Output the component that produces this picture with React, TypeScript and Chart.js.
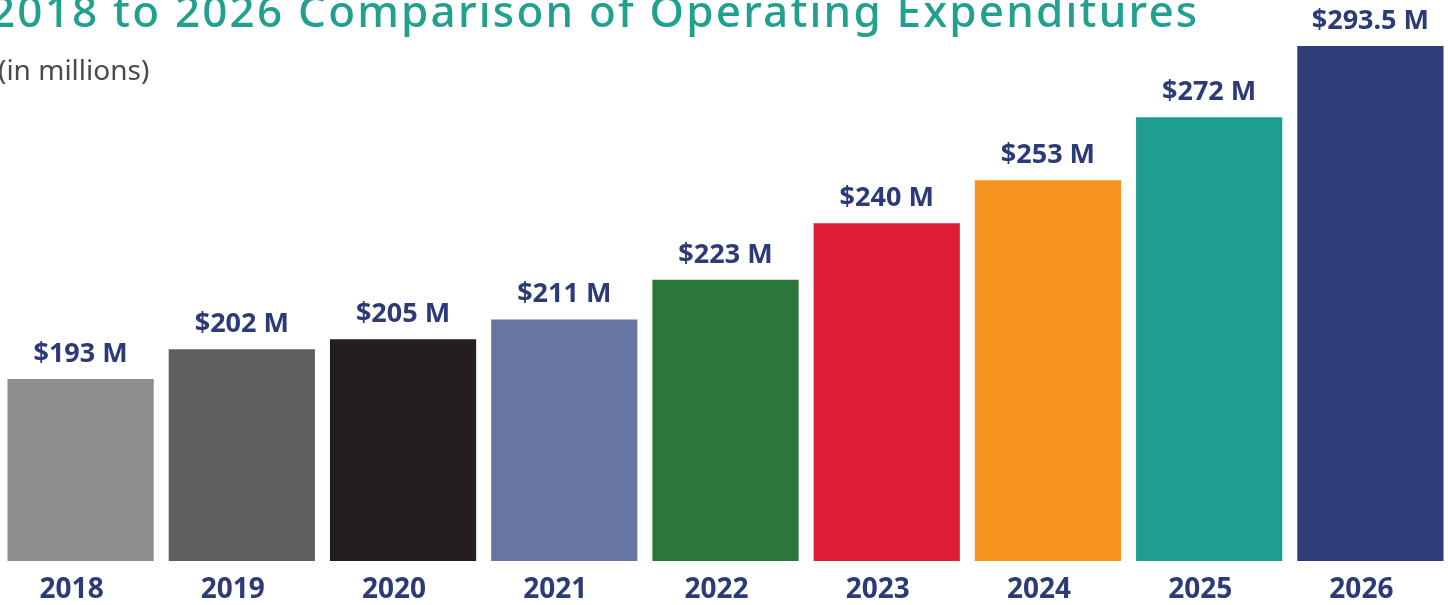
import React, { useEffect, useRef } from "react";
import { Chart, registerables } from "chart.js";

Chart.register(...registerables);

const years = ["2018", "2019", "2020", "2021", "2022", "2023", "2024", "2025", "2026"];
const expenditures = [193, 202, 205, 211, 223, 240, 253, 272, 293.5];
const valueLabels = ["$193 M", "$202 M", "$205 M", "$211 M", "$223 M", "$240 M", "$253 M", "$272 M", "$293.5 M"];
const barColors = ["#8e8e8e", "#5f5f61", "#231f20", "#6874a1", "#2b773b", "#df1c35", "#f6921e", "#1f9e8f", "#2e3d78"];

const titleText = "2018 to 2026 Comparison of Operating Expenditures";
const subtitleText = "(in millions)";

const NAVY = "#2c3b78";
const FONT = "'Noto Sans', 'DejaVu Sans', sans-serif";

const valueLabelPlugin = {
  id: "valueLabels",
  afterDatasetsDraw(chart: any) {
    const ctx = chart.ctx;
    const meta = chart.getDatasetMeta(0);
    ctx.save();
    ctx.fillStyle = NAVY;
    ctx.font = `700 27px ${FONT}`;
    ctx.textAlign = "center";
    ctx.textBaseline = "alphabetic";
    meta.data.forEach((bar: any, i: number) => {
      ctx.fillText(valueLabels[i], bar.x, bar.y - 17);
    });
    ctx.restore();
  },
};

export default function App() {
  const canvasRef = useRef<HTMLCanvasElement | null>(null);

  useEffect(() => {
    document.body.style.overflow = "hidden";
    const canvas = canvasRef.current;
    if (!canvas) return;
    const chart = new Chart(canvas, {
      type: "bar",
      data: {
        labels: years,
        datasets: [
          {
            data: expenditures,
            backgroundColor: barColors,
            borderWidth: 0,
            barPercentage: 0.907,
            categoryPercentage: 1,
          },
        ],
      },
      options: {
        animation: false,
        responsive: true,
        maintainAspectRatio: false,
        layout: { padding: 0 },
        plugins: {
          legend: { display: false },
          tooltip: { enabled: false },
          title: { display: false },
        },
        scales: {
          x: {
            grid: { display: false, drawTicks: false },
            border: { display: false },
            ticks: {
              color: NAVY,
              font: { family: FONT, size: 28, weight: "bold" },
              padding: 12,
              labelOffset: -9,
            },
            afterFit: (scale: any) => {
              scale.height = 44;
            },
          },
          y: {
            display: false,
            min: 138.1,
            max: 307.4,
          },
        },
      },
      plugins: [valueLabelPlugin],
    });
    return () => chart.destroy();
  }, []);

  return (
    <div style={{ position: "fixed", left: 0, top: 0, width: 1451, height: 605, background: "#fff" }}>
      <canvas ref={canvasRef} style={{ position: "absolute", left: 0, top: 0 }} />
      <div
        style={{
          position: "absolute",
          left: -10,
          top: -20,
          whiteSpace: "nowrap",
          fontFamily: FONT,
          fontWeight: 500,
          fontSize: 44,
          letterSpacing: "2.2px",
          color: "#21a08e",
          lineHeight: "normal",
        }}
      >
        {titleText}
      </div>
      <div
        style={{
          position: "absolute",
          left: -2,
          top: 50,
          whiteSpace: "nowrap",
          fontFamily: FONT,
          fontWeight: 400,
          fontSize: 28,
          color: "#4a4a4a",
          lineHeight: "normal",
        }}
      >
        {subtitleText}
      </div>
    </div>
  );
}
